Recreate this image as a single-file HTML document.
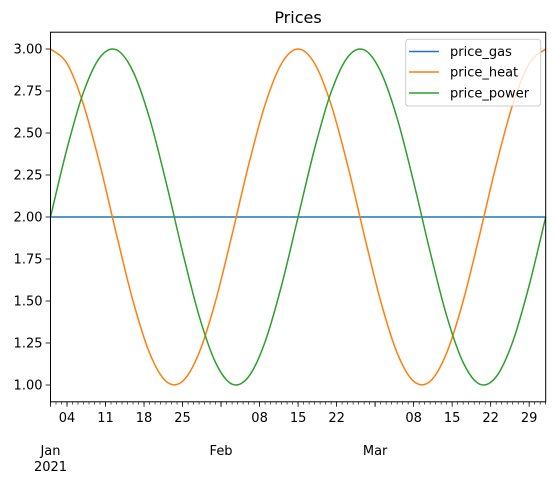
<!DOCTYPE html>
<html><head><meta charset="utf-8"><style>
html,body{margin:0;padding:0;background:#fff}
svg{display:block;font-family:"DejaVu Sans","Liberation Sans",sans-serif}
</style></head><body>
<svg id="chart" width="556" height="484">
<text x="298" y="23" font-size="16" text-anchor="middle">Prices</text>
<g id="grid"></g>
<g id="series"></g>
<rect x="50.5" y="32.2" width="495.2" height="369.6" fill="none" stroke="#000" stroke-width="1"/>
<g id="axes"></g>
<g>
<rect x="405.7" y="39.3" width="135" height="66.7" rx="3" fill="#fff" fill-opacity="0.8" stroke="#ccc"/>
<line x1="409" y1="51.5" x2="439" y2="51.5" stroke="#1f77b4" stroke-width="1.5"/>
<text x="450" y="56" font-size="13">price_gas</text>
<line x1="409" y1="72" x2="439" y2="72" stroke="#ff7f0e" stroke-width="1.5"/>
<text x="450" y="76.5" font-size="13">price_heat</text>
<line x1="409" y1="93" x2="439" y2="93" stroke="#2ca02c" stroke-width="1.5"/>
<text x="450" y="97.5" font-size="13">price_power</text>
</g>
</svg>
<script>
// day offsets from 2021-01-01, sampled every 3 days
const days = [0,3,6,9,12,15,18,21,24,27,30,33,36,39,42,45,48,51,54,57,60,63,66,69,72,75,78,81,84,87,90];
const priceGas = [2,2,2,2,2,2,2,2,2,2,2,2,2,2,2,2,2,2,2,2,2,2,2,2,2,2,2,2,2,2,2];
const priceHeat = [3,2.914,2.669,2.309,1.895,1.5,1.191,1.022,1.022,1.191,1.5,1.895,2.309,2.669,2.914,3,2.914,2.669,2.309,1.895,1.5,1.191,1.022,1.022,1.191,1.5,1.895,2.309,2.669,2.914,3];
const pricePower = [2,2.407,2.743,2.951,2.995,2.866,2.588,2.208,1.792,1.412,1.134,1.005,1.049,1.257,1.593,2,2.407,2.743,2.951,2.995,2.866,2.588,2.208,1.792,1.412,1.134,1.005,1.049,1.257,1.593,2];
const yTicks = [1.00,1.25,1.50,1.75,2.00,2.25,2.50,2.75,3.00];
const xMajorDays = [3,10,17,24,31,38,45,52,59,66,73,80,87];
const xMajorLabels = ["04","11","18","25","","08","15","22","","08","15","22","29"];
const monthDays = [0,31,59];
const monthLabels = ["Jan","Feb","Mar"];
const totalDays = 90;

const X0=50.5, X1=545.7, Y0=401.8, Y1=32.2, YMIN=0.9, YMAX=3.1;
const xs = d => X0 + d*(X1-X0)/totalDays;
const ys = v => Y0 - (v-YMIN)*(Y0-Y1)/(YMAX-YMIN);
const NS="http://www.w3.org/2000/svg";
const axes=document.getElementById('axes'), ser=document.getElementById('series');
function mk(tag, attrs, parent){const e=document.createElementNS(NS,tag);for(const k in attrs)e.setAttribute(k,attrs[k]);parent.appendChild(e);return e;}

yTicks.forEach(v=>{
  const y=ys(v);
  const t=mk('line',{x1:X0-4.9,x2:X0,y1:y,y2:y,stroke:'#000','stroke-width':0.8},axes);
  
  
  const l=mk('text',{x:X0-8,y:y+4.5,'font-size':13,'text-anchor':'end'},axes);
  l.textContent=v.toFixed(2);
  
  
});
for(let d=0; d<=totalDays; d++){
  const m=mk('line',{x1:xs(d),x2:xs(d),y1:Y0,y2:Y0+2.8,stroke:'#000','stroke-width':0.6},axes);
  
  
}
xMajorDays.forEach((d,i)=>{
  const x=xs(d);
  const t=mk('line',{x1:x,x2:x,y1:Y0,y2:Y0+4.9,stroke:'#000','stroke-width':0.8},axes);
  
  
  if(xMajorLabels[i]){
    const l=mk('text',{x:x,y:Y0+20,'font-size':13,'text-anchor':'middle'},axes);
    l.textContent=xMajorLabels[i];
    
    
  }
});
monthDays.forEach((d,i)=>{
  const x=xs(d);
  const t=mk('line',{x1:x,x2:x,y1:Y0,y2:Y0+4.9,stroke:'#000','stroke-width':0.8},axes);
  
  
  const l=mk('text',{x:x,y:Y0+53,'font-size':13,'text-anchor':'middle'},axes);
  l.textContent=monthLabels[i];
  
  
});
const yr=mk('text',{x:xs(0),y:Y0+69,'font-size':13,'text-anchor':'middle'},axes);
yr.textContent='2021';



function smoothPath(vals){
  const p=days.map((d,i)=>[xs(d),ys(vals[i])]);
  let s='M'+p[0][0]+','+p[0][1];
  for(let i=0;i<p.length-1;i++){
    const a=p[Math.max(0,i-1)],b=p[i],c=p[i+1],e=p[Math.min(p.length-1,i+2)];
    const c1=[b[0]+(c[0]-a[0])/6,b[1]+(c[1]-a[1])/6];
    const c2=[c[0]-(e[0]-b[0])/6,c[1]-(e[1]-b[1])/6];
    s+=' C'+c1+' '+c2+' '+c;
  }
  return s;
}
[[priceGas,'#1f77b4','line-price-gas'],[priceHeat,'#ff7f0e','line-price-heat'],[pricePower,'#2ca02c','line-price-power']].forEach(([v,c,n])=>{
  const p=mk('path',{d:smoothPath(v),fill:'none',stroke:c,'stroke-width':1.5},ser);
  
  
});
</script>
</body></html>
